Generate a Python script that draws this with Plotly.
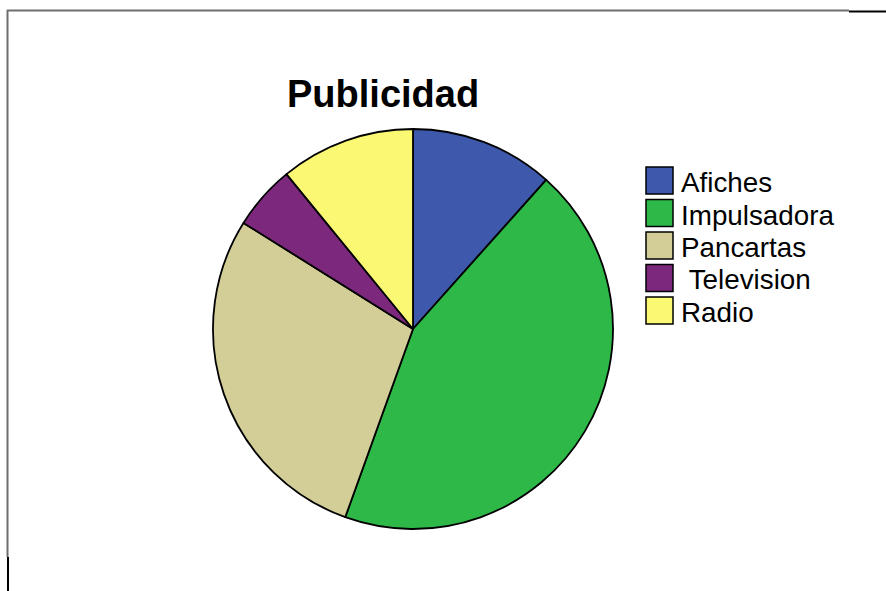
import plotly.graph_objects as go

# Advertising channels and their share (%)
categories = ["Afiches", "Impulsadora", "Pancartas", " Television", "Radio"]
shares = [11.6, 43.9, 28.4, 5.2, 10.9]
colors = ["#3E58AC", "#2EB848", "#D3CE97", "#7C287D", "#FBF873"]

W, H = 886, 591


def px(x):
    return x / W


def py(y):
    return 1 - y / H


fig = go.Figure()

fig.add_trace(go.Pie(
    labels=categories,
    values=shares,
    sort=False,
    direction="clockwise",
    rotation=0,
    marker=dict(colors=colors, line=dict(color="black", width=1.8)),
    textinfo="none",
    hoverinfo="label+percent",
    showlegend=False,
    domain=dict(x=[px(213), px(613)], y=[py(529), py(129)]),
))

shapes = []
annotations = []

# Custom legend: large square swatches with labels
box_left, box_size, first_top, step = 646, 27, 167, 32.5
for i, (name, col) in enumerate(zip(categories, colors)):
    top = first_top + i * step
    shapes.append(dict(
        type="rect", xref="paper", yref="paper",
        x0=px(box_left), x1=px(box_left + box_size),
        y0=py(top + box_size), y1=py(top),
        fillcolor=col, line=dict(color="black", width=1.5),
    ))
    annotations.append(dict(
        text=name.replace(" ", "&nbsp;"), xref="paper", yref="paper",
        x=px(679), y=py(top + box_size / 2 + 2),
        xanchor="left", yanchor="middle", showarrow=False,
        font=dict(family="Liberation Sans, Arial", size=27.8, color="black"),
    ))

# Title
annotations.append(dict(
    text="<b>Publicidad</b>", xref="paper", yref="paper",
    x=px(383), y=py(94), xanchor="center", yanchor="middle", showarrow=False,
    font=dict(family="Liberation Sans, Arial", size=38, color="black"),
))

# Frame lines
shapes += [
    dict(type="line", xref="paper", yref="paper", x0=px(7), x1=px(849),
         y0=py(10.5), y1=py(10.5), line=dict(color="#6e6e6e", width=2)),
    dict(type="line", xref="paper", yref="paper", x0=px(849), x1=px(886),
         y0=py(11.5), y1=py(11.5), line=dict(color="black", width=2)),
    dict(type="line", xref="paper", yref="paper", x0=px(7.5), x1=px(7.5),
         y0=py(10), y1=py(557), line=dict(color="#6e6e6e", width=2)),
    dict(type="line", xref="paper", yref="paper", x0=px(8), x1=px(8),
         y0=py(557), y1=py(591), line=dict(color="black", width=2)),
]

fig.update_layout(
    width=W, height=H,
    margin=dict(l=0, r=0, t=0, b=0),
    paper_bgcolor="white", plot_bgcolor="white",
    shapes=shapes, annotations=annotations,
    showlegend=False,
)

fig.write_html("out.html")
